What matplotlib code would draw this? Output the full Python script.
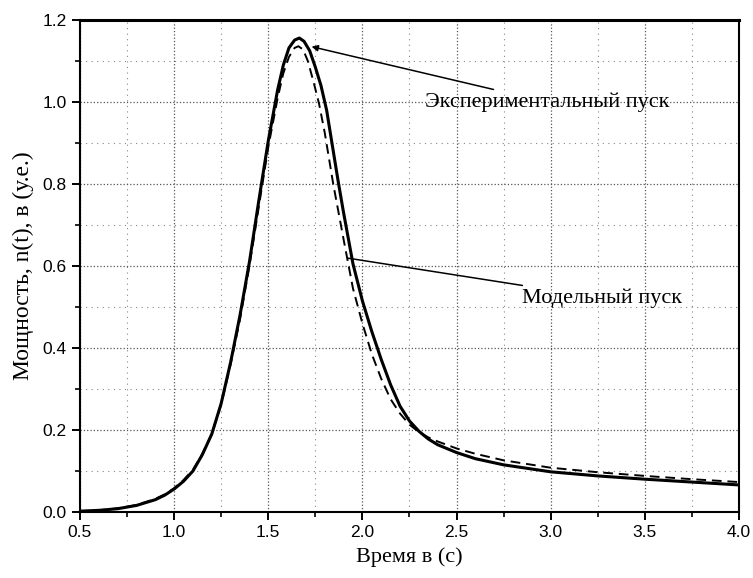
import matplotlib.pyplot as plt
from matplotlib.ticker import MultipleLocator

# Data
t_exp = [0.5, 0.6, 0.7, 0.8, 0.9, 0.95, 1.0, 1.05, 1.1, 1.15, 1.2, 1.25, 1.3, 1.35,
         1.4, 1.45, 1.5, 1.55, 1.58, 1.61, 1.64, 1.665, 1.69, 1.72, 1.75, 1.78,
         1.81, 1.84, 1.87, 1.9, 1.95, 2.0, 2.05, 2.1, 2.15, 2.2, 2.25, 2.3, 2.35,
         2.4, 2.5, 2.6, 2.75, 3.0, 3.25, 3.5, 3.75, 4.0]
n_exp = [0.002, 0.004, 0.008, 0.016, 0.03, 0.041, 0.056, 0.075, 0.1, 0.14, 0.19,
         0.265, 0.365, 0.48, 0.61, 0.76, 0.905, 1.03, 1.09, 1.132, 1.151, 1.156,
         1.148, 1.125, 1.085, 1.04, 0.98, 0.895, 0.81, 0.73, 0.605, 0.515, 0.44,
         0.372, 0.31, 0.258, 0.222, 0.197, 0.178, 0.164, 0.145, 0.13, 0.115, 0.098,
         0.088, 0.08, 0.073, 0.066]

t_mod = [0.5, 0.6, 0.7, 0.8, 0.9, 0.95, 1.0, 1.05, 1.1, 1.15, 1.2, 1.25, 1.3, 1.35,
         1.4, 1.45, 1.5, 1.55, 1.58, 1.61, 1.64, 1.66, 1.685, 1.71, 1.74, 1.77,
         1.8, 1.845, 1.9, 1.95, 2.0, 2.05, 2.1, 2.15, 2.2, 2.25, 2.3, 2.35, 2.4,
         2.5, 2.6, 2.75, 3.0, 3.25, 3.5, 3.75, 4.0]
n_mod = [0.002, 0.004, 0.009, 0.017, 0.032, 0.043, 0.058, 0.078, 0.103, 0.142,
         0.19, 0.262, 0.36, 0.47, 0.6, 0.745, 0.89, 1.01, 1.07, 1.11, 1.132, 1.136,
         1.128, 1.1, 1.05, 0.995, 0.925, 0.8, 0.665, 0.545, 0.46, 0.385, 0.325,
         0.275, 0.24, 0.213, 0.195, 0.182, 0.172, 0.155, 0.142, 0.126, 0.108, 0.097,
         0.088, 0.08, 0.073]

plt.rcParams['font.family'] = ['Liberation Sans', 'DejaVu Sans']
serif = ['Liberation Serif', 'DejaVu Serif']

fig = plt.figure(figsize=(7.53, 5.78), dpi=100)
ax = fig.add_axes([0.1062, 0.1142, 0.8752, 0.8512])

ax.plot(t_exp, n_exp, color='black', lw=2.2, zorder=3, solid_joinstyle='round')
ax.plot(t_mod, n_mod, color='black', lw=1.4, dashes=(5, 3), zorder=3)

ax.set_xlim(0.5, 4.0)
ax.set_ylim(0.0, 1.2)
ax.xaxis.set_major_locator(MultipleLocator(0.5))
ax.xaxis.set_minor_locator(MultipleLocator(0.25))
ax.yaxis.set_major_locator(MultipleLocator(0.2))
ax.yaxis.set_minor_locator(MultipleLocator(0.1))

ax.grid(True, which='major', linestyle=':', color='#555555', lw=0.9)
ax.grid(True, which='minor', linestyle=(0, (1, 4)), color='#888888', lw=0.8)
ax.set_axisbelow(True)

ax.tick_params(which='major', direction='out', length=6, width=1.4, labelsize=12.5)
ax.tick_params(which='minor', direction='out', length=3.5, width=1.2)
for side in ['left', 'bottom', 'right']:
    ax.spines[side].set_linewidth(1.5)
ax.spines['top'].set_linewidth(2.2)

ax.set_xlabel('Время в (с)', fontsize=16, family=serif, labelpad=5)
ax.set_ylabel('Мощность, n(t), в (у.е.)', fontsize=17, family=serif, labelpad=6)

ax.annotate('Экспериментальный пуск', xy=(1.73, 1.135), xytext=(2.33, 1.0),
            fontsize=16, family=serif, va='center', ha='left',
            arrowprops=dict(arrowstyle='-|>', color='black', lw=1.1,
                            shrinkA=0, shrinkB=0, mutation_scale=9))
ax.annotate('Модельный пуск', xy=(1.925, 0.619), xytext=(2.85, 0.522),
            fontsize=16, family=serif, va='center', ha='left',
            arrowprops=dict(arrowstyle='-', color='black', lw=1.1,
                            shrinkA=0, shrinkB=0))

fig.savefig('out.png', dpi=100)
